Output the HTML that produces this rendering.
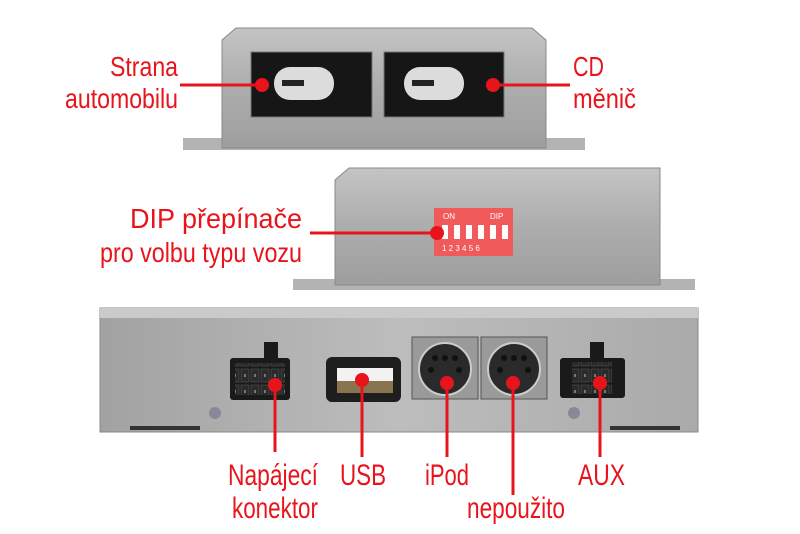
<!DOCTYPE html>
<html><head><meta charset="utf-8"><style>html,body{margin:0;padding:0;background:#fff}svg{display:block}</style></head>
<body>
<svg width="800" height="534" viewBox="0 0 800 534" xmlns="http://www.w3.org/2000/svg" font-family="Liberation Sans, sans-serif">
<defs>
<linearGradient id="met" x1="0" y1="0" x2="0" y2="1">
<stop offset="0" stop-color="#c4c4c4"/><stop offset="0.5" stop-color="#adadad"/><stop offset="1" stop-color="#9e9e9e"/></linearGradient>
<linearGradient id="met2" x1="0" y1="0" x2="1" y2="0">
<stop offset="0" stop-color="#a2a2a2"/><stop offset="0.5" stop-color="#bdbdbd"/><stop offset="1" stop-color="#aaaaaa"/></linearGradient>
<pattern id="pins" width="10" height="16" patternUnits="userSpaceOnUse"><rect x="1" y="1" width="8" height="13" fill="#2a2a2a" stroke="#555" stroke-width="0.6"/><rect x="4" y="6" width="2" height="3" fill="#777"/></pattern>
</defs>
<rect x="183" y="138" width="402" height="12" fill="#b3b3b3"/>
<path d="M222 148 L222 40 L236 28 L532 28 L546 40 L546 148 Z" fill="url(#met)" stroke="#888"/>
<rect x="251" y="52" width="121" height="65" fill="#161616" stroke="#777"/>
<rect x="384" y="52" width="120" height="65" fill="#161616" stroke="#777"/>
<rect x="274" y="67" width="60" height="33" rx="16" fill="#dcdcdc"/>
<rect x="404" y="67" width="60" height="33" rx="16" fill="#dcdcdc"/>
<rect x="282" y="80" width="22" height="6" fill="#222"/>
<rect x="412" y="80" width="22" height="6" fill="#222"/>
<rect x="293" y="279" width="402" height="11" fill="#b3b3b3"/>
<path d="M335 285 L335 180 L349 168 L660 168 L660 285 Z" fill="url(#met)" stroke="#888"/>
<rect x="434" y="208" width="79" height="48" fill="#f05a5a"/>
<g fill="#fff"><rect x="442" y="225" width="6" height="14"/><rect x="454" y="225" width="6" height="14"/><rect x="466" y="225" width="6" height="14"/><rect x="478" y="225" width="6" height="14"/><rect x="490" y="225" width="6" height="14"/><rect x="502" y="225" width="6" height="14"/></g>
<text x="443" y="219" font-size="8" fill="#fff">ON</text><text x="490" y="219" font-size="8" fill="#fff">DIP</text>
<text x="442" y="251" font-size="8" fill="#fff">1 2 3 4 5 6</text>
<rect x="100" y="308" width="598" height="124" fill="url(#met2)" stroke="#888"/>
<rect x="100" y="308" width="598" height="10" fill="#cacaca"/>
<rect x="130" y="426" width="70" height="4" fill="#333"/>
<rect x="610" y="426" width="70" height="4" fill="#333"/>
<circle cx="215" cy="413" r="6" fill="#889"/><circle cx="574" cy="413" r="6" fill="#889"/>
<rect x="264" y="342" width="14" height="18" fill="#1a1a1a"/>
<rect x="230" y="358" width="60" height="42" rx="3" fill="#1a1a1a"/>
<rect x="235" y="363" width="50" height="32" fill="url(#pins)"/>
<rect x="590" y="342" width="14" height="18" fill="#1a1a1a"/>
<rect x="560" y="358" width="65" height="40" rx="3" fill="#1a1a1a"/>
<rect x="572" y="362" width="40" height="32" fill="url(#pins)"/>
<rect x="326" y="357" width="75" height="45" rx="6" fill="#1e1e1e"/>
<rect x="337" y="368" width="56" height="13" fill="#f2f2f2"/>
<rect x="337" y="381" width="56" height="12" fill="#8a7450"/>
<rect x="412" y="337" width="66" height="62" fill="#9a9a9a" stroke="#555"/>
<rect x="481" y="337" width="66" height="62" fill="#9a9a9a" stroke="#555"/>
<circle cx="445" cy="369" r="26" fill="#2a2a2a" stroke="#ccc" stroke-width="2"/>
<circle cx="514" cy="369" r="26" fill="#2a2a2a" stroke="#ccc" stroke-width="2"/>
<g fill="#111"><circle cx="435" cy="358" r="3"/><circle cx="445" cy="358" r="3"/><circle cx="455" cy="358" r="3"/><circle cx="431" cy="370" r="3"/><circle cx="459" cy="370" r="3"/>
<circle cx="504" cy="358" r="3"/><circle cx="514" cy="358" r="3"/><circle cx="524" cy="358" r="3"/><circle cx="500" cy="370" r="3"/><circle cx="528" cy="370" r="3"/></g>
<g stroke="#e8141c" stroke-width="3" fill="none">
<line x1="180" y1="85" x2="262" y2="85"/>
<line x1="493" y1="85" x2="570" y2="85"/>
<line x1="310" y1="233" x2="437" y2="233"/>
<line x1="275" y1="385" x2="275" y2="452"/>
<line x1="362" y1="380" x2="362" y2="457"/>
<line x1="447" y1="383" x2="447" y2="457"/>
<line x1="513" y1="383" x2="513" y2="495"/>
<line x1="600" y1="383" x2="600" y2="457"/>
</g>
<g fill="#e8141c">
<circle cx="262" cy="85" r="7"/><circle cx="493" cy="85" r="7"/><circle cx="437" cy="233" r="7"/>
<circle cx="275" cy="385" r="7"/><circle cx="362" cy="380" r="7"/><circle cx="447" cy="383" r="7"/><circle cx="513" cy="383" r="7"/><circle cx="600" cy="383" r="7"/>
</g>
<g fill="#e8141c" font-size="28">
<text x="110" y="76" textLength="68" lengthAdjust="spacingAndGlyphs">Strana</text>
<text x="65" y="108" textLength="113" lengthAdjust="spacingAndGlyphs">automobilu</text>
<text x="573" y="76" textLength="31" lengthAdjust="spacingAndGlyphs">CD</text>
<text x="573" y="108" textLength="63" lengthAdjust="spacingAndGlyphs">měnič</text>
<text x="130" y="228" textLength="172" lengthAdjust="spacingAndGlyphs">DIP přepínače</text>
<text x="100" y="262" textLength="202" lengthAdjust="spacingAndGlyphs">pro volbu typu vozu</text>
<text x="228" y="485" font-size="30" textLength="90" lengthAdjust="spacingAndGlyphs">Napájecí</text>
<text x="232" y="518" font-size="30" textLength="86" lengthAdjust="spacingAndGlyphs">konektor</text>
<text x="340" y="485" font-size="30" textLength="46" lengthAdjust="spacingAndGlyphs">USB</text>
<text x="425" y="485" font-size="30" textLength="44" lengthAdjust="spacingAndGlyphs">iPod</text>
<text x="467" y="518" font-size="30" textLength="98" lengthAdjust="spacingAndGlyphs">nepoužito</text>
<text x="578" y="485" font-size="30" textLength="47" lengthAdjust="spacingAndGlyphs">AUX</text>
</g>
</svg>
</body></html>
